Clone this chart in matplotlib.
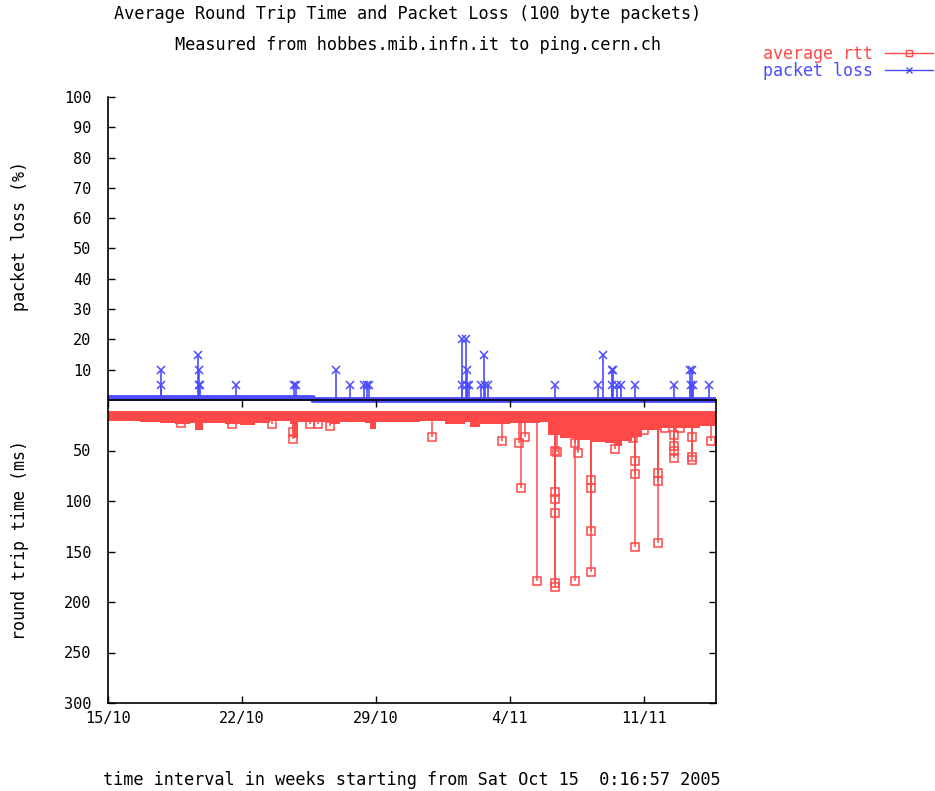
import numpy as np
import matplotlib.pyplot as plt
from matplotlib.lines import Line2D

# x values are days since Sat Oct 15 0:16:57 2005
week_ticks = [0, 7, 14, 21, 28]
week_labels = ['15/10', '22/10', '29/10', '4/11', '11/11']
x_end = 31.77

# packet loss (%)
loss_base_days = [0, 10.7, 10.7, 31.77]
loss_base_vals = [0.8, 0.8, 0.0, 0.0]
loss_spike_days = [2.77, 2.77, 4.70, 4.73, 4.76, 4.80, 6.69, 9.72, 9.80, 11.91,
                   12.64, 13.37, 13.53, 13.63, 18.49, 18.49, 18.70, 18.75, 18.75, 18.86,
                   19.49, 19.64, 19.70, 19.85, 23.35, 25.60, 25.86, 26.33, 26.33, 26.38,
                   26.59, 26.80, 27.53, 29.57, 30.40, 30.47, 30.52, 30.58, 31.40]
loss_spike_vals = [10, 5, 15, 10, 5, 5, 5, 5, 5, 10,
                   5, 5, 5, 5, 20, 5, 20, 10, 5, 5,
                   5, 15, 5, 5, 5, 5, 15, 10, 5, 10,
                   5, 5, 5, 5, 10, 5, 10, 5, 5]

# average rtt (ms): dense band of measurements
rtt_floor = 11
rtt_env_days = [0.0, 0.89, 1.67, 2.19, 2.72, 3.50, 4.28, 4.55, 4.96, 5.33,
                6.11, 6.90, 7.68, 8.46, 9.51, 9.67, 9.93, 10.29, 11.60, 12.12,
                13.43, 13.69, 14.00, 16.30, 17.61, 18.65, 18.91, 19.44, 21.00, 22.57,
                22.99, 23.62, 24.40, 25.18, 25.97, 26.49, 26.85, 27.38, 27.90, 28.84,
                30.93, 31.77]
rtt_env_low = [21, 21, 22, 22, 23, 24, 23, 30, 23, 23,
               24, 25, 23, 21, 24, 38, 22, 22, 24, 22,
               23, 29, 22, 21, 24, 22, 27, 24, 23, 22,
               35, 38, 40, 42, 43, 46, 41, 37, 30, 28,
               26, 25]
# isolated high rtt samples
rtt_spike_days = [3.81, 6.48, 8.57, 9.67, 9.67, 10.55, 10.97, 11.60, 16.93, 20.59,
                  21.47, 21.58, 21.79, 22.41, 23.35, 23.35, 23.35, 23.35, 23.35, 23.35,
                  23.46, 24.40, 24.40, 24.56, 25.24, 25.24, 25.24, 25.24, 26.49, 27.53,
                  27.53, 27.53, 28.74, 28.74, 28.74, 29.57, 29.57, 29.57, 29.57, 30.51,
                  30.51, 30.51, 31.50, 27.43, 28.00, 29.10, 29.90]
rtt_spike_vals = [23, 24, 24, 32, 39, 24, 24, 26, 37, 41,
                  43, 87, 37, 179, 50, 91, 98, 112, 181, 185,
                  51, 43, 179, 52, 79, 87, 130, 170, 49, 60,
                  73, 146, 72, 80, 142, 35, 46, 50, 57, 37,
                  56, 59, 41, 38, 30, 28, 28]

red = '#ff4848'
blue = '#4c4cff'
font = 'DejaVu Sans Mono'
plt.rcParams['font.family'] = font

fig = plt.figure(figsize=(9.35, 7.91), dpi=100)
L, W = 108 / 935, 608 / 935
H = 303 / 791
ax_top = fig.add_axes([L, 1 - 400 / 791, W, H])
ax_bot = fig.add_axes([L, 1 - 703 / 791, W, H])
ax_bot.set_facecolor('none')

# packet loss panel
ax_top.plot(loss_base_days, loss_base_vals, color=blue, lw=4.2, clip_on=False,
            solid_capstyle='butt')
ax_top.vlines(loss_spike_days, 0, loss_spike_vals, color=blue, lw=1.2)
ax_top.plot(loss_spike_days, loss_spike_vals, ls='none', marker='x', ms=6,
            mew=1.1, color=blue)
ax_top.set_xlim(0, x_end)
ax_top.set_ylim(0, 100)
ax_top.set_yticks(range(10, 101, 10))
ax_top.set_xticks([])
for s in ['top', 'right', 'bottom']:
    ax_top.spines[s].set_visible(False)
ax_top.spines['left'].set_linewidth(1.2)
ax_top.tick_params(axis='y', direction='in', length=5, width=1, labelsize=11, pad=12)

# rtt panel
ax_bot.fill_between(rtt_env_days, rtt_floor, rtt_env_low, step='post', color=red, lw=0)
ax_bot.vlines(rtt_spike_days, 20, rtt_spike_vals, color=red, lw=1.1)
ax_bot.plot(rtt_spike_days, rtt_spike_vals, ls='none', marker='s', ms=5.5,
            mfc='none', mec=red, mew=1.1)
ax_bot.set_xlim(0, x_end)
ax_bot.set_ylim(300, 0)
ax_bot.set_yticks(range(50, 301, 50))
ax_bot.set_xticks(week_ticks)
ax_bot.set_xticklabels(week_labels)
for s in ax_bot.spines.values():
    s.set_linewidth(1.2)
ax_bot.tick_params(direction='in', length=5, width=1, labelsize=11,
                   top=True, right=True)
ax_bot.tick_params(axis='y', pad=12)
ax_bot.tick_params(axis='x', pad=6)

# titles and labels
fig.text(408 / 935, 1 - 14 / 791, 'Average Round Trip Time and Packet Loss (100 byte packets)',
         ha='center', va='center', fontsize=12.2)
fig.text(418 / 935, 1 - 45 / 791, 'Measured from hobbes.mib.infn.it to ping.cern.ch',
         ha='center', va='center', fontsize=12.2)
fig.text(412 / 935, 1 - 780 / 791, 'time interval in weeks starting from Sat Oct 15  0:16:57 2005',
         ha='center', va='center', fontsize=12.2)
fig.text(20 / 935, 1 - 236 / 791, 'packet loss (%)', rotation=90,
         ha='center', va='center', fontsize=12)
fig.text(20 / 935, 1 - 540 / 791, 'round trip time (ms)', rotation=90,
         ha='center', va='center', fontsize=12)

handles = [Line2D([], [], color=red, lw=1, marker='s', ms=5, mfc='none', mew=1),
           Line2D([], [], color=blue, lw=1, marker='x', ms=5, mew=1)]
fig.legend(handles, ['average rtt', 'packet loss'], loc='upper right',
           bbox_to_anchor=(1.0, 1 - 43 / 791), frameon=False, markerfirst=False,
           labelcolor='linecolor', handlelength=2.9, handletextpad=0.7,
           labelspacing=-0.03, borderaxespad=0.0, borderpad=0.1,
           prop={'family': font, 'size': 12})

fig.savefig('out.png', dpi=100)
